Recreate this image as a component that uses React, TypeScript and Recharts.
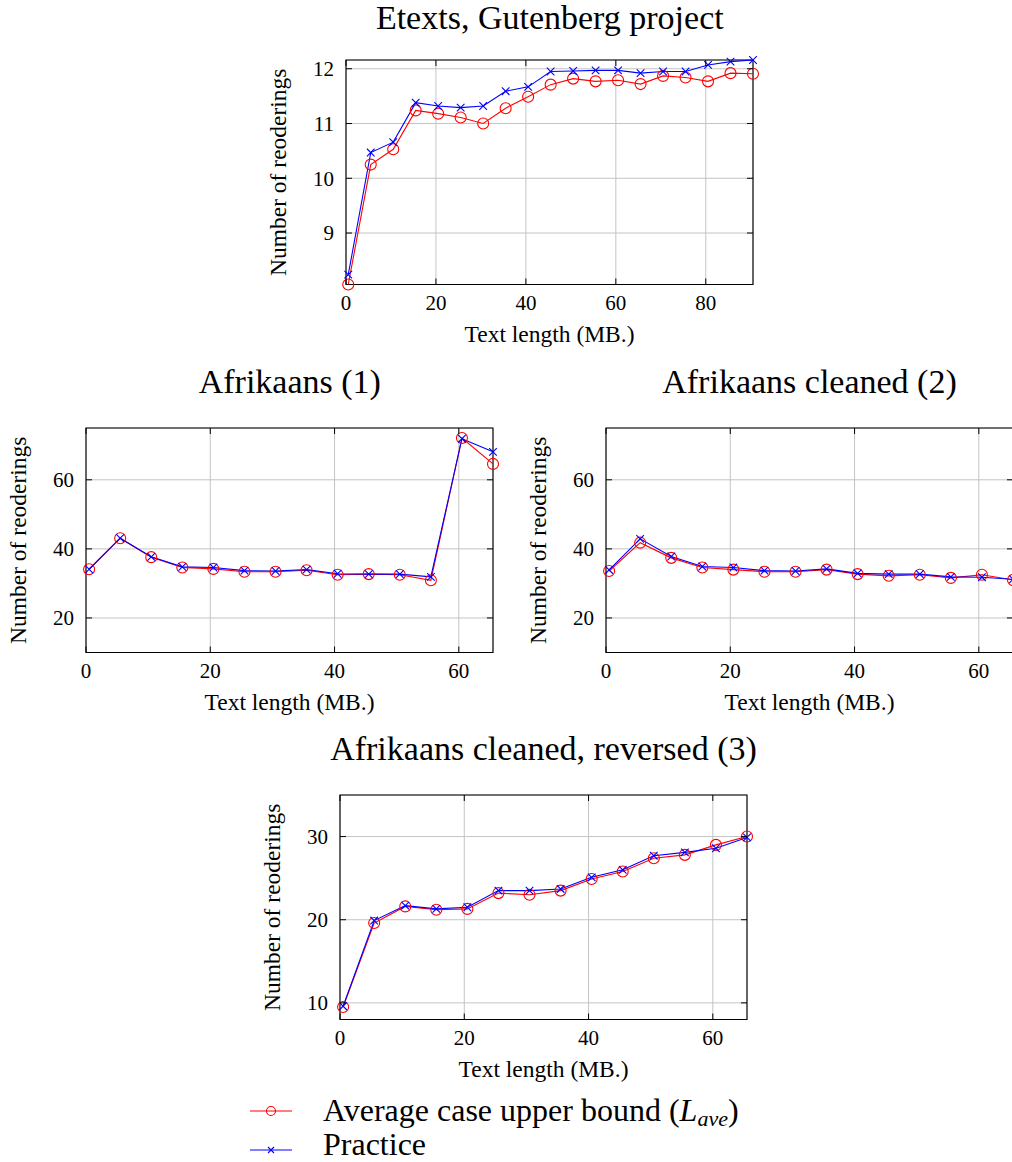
import React from "react"
import { LineChart, Line, XAxis, YAxis, CartesianGrid, ReferenceArea, Label } from "recharts"

const FONT = '"Liberation Serif", "Times New Roman", serif'

// Etexts, Gutenberg project
const gutenbergX = [0.5, 5.5, 10.5, 15.5, 20.5, 25.5, 30.5, 35.5, 40.5, 45.5, 50.5, 55.5, 60.5, 65.5, 70.5, 75.5, 80.5, 85.5, 90.5]
const gutenbergAvg = [8.06, 10.25, 10.53, 11.24, 11.18, 11.11, 11.0, 11.28, 11.49, 11.71, 11.82, 11.77, 11.79, 11.72, 11.87, 11.84, 11.77, 11.92, 11.91]
const gutenbergPractice = [8.24, 10.47, 10.66, 11.38, 11.32, 11.29, 11.32, 11.59, 11.67, 11.95, 11.96, 11.97, 11.97, 11.92, 11.95, 11.95, 12.07, 12.13, 12.16]
const gutenbergXTicks = [0, 20, 40, 60, 80]
const gutenbergYTicks = [9, 10, 11, 12]

// Afrikaans corpora
const afrikaansX = [0.5, 5.5, 10.5, 15.5, 20.5, 25.5, 30.5, 35.5, 40.5, 45.5, 50.5, 55.5, 60.5, 65.5]
const afr1Avg = [34.1, 43.1, 37.6, 34.6, 34.2, 33.4, 33.4, 33.8, 32.5, 32.7, 32.5, 30.9, 72.1, 64.6]
const afr1Practice = [34.1, 43.1, 37.7, 34.8, 34.6, 33.7, 33.6, 34.0, 32.8, 32.7, 32.7, 31.9, 71.9, 68.1]
const afr2Avg = [33.6, 41.8, 37.4, 34.6, 34.0, 33.4, 33.4, 34.0, 32.7, 32.2, 32.5, 31.6, 32.5, 31.0]
const afr2Practice = [33.9, 42.9, 37.8, 34.9, 34.6, 33.7, 33.6, 34.2, 32.9, 32.7, 32.7, 31.9, 31.8, 31.2]
const afr3Avg = [9.5, 19.6, 21.6, 21.2, 21.3, 23.2, 23.0, 23.5, 24.9, 25.8, 27.4, 27.8, 29.0, 30.0]
const afr3Practice = [9.6, 19.9, 21.7, 21.3, 21.5, 23.5, 23.5, 23.7, 25.1, 26.0, 27.7, 28.1, 28.6, 29.9]
const afrikaansXTicks = [0, 20, 40, 60]
const afrikaansYTicks = [20, 40, 60]
const reversedYTicks = [10, 20, 30]

const PW = 407
const PH = 224.5
const ML = 92
const MT = 12
const MR = 12
const MB = 72

type PanelProps = {
  left: number
  top: number
  xs: number[]
  avg: number[]
  practice: number[]
  xTicks: number[]
  yTicks: number[]
  yDomain: [number | string, number | string]
}

function Panel({ left, top, xs, avg, practice, xTicks, yTicks, yDomain }: PanelProps) {
  const rows = xs.map((x, i) => ({ x, avg: avg[i], practice: practice[i] }))
  const bottom = MT + PH
  const right = ML + PW

  const xTick = ({ x, payload }: any) => (
    <g>
      <line x1={x} x2={x} y1={bottom} y2={bottom - 6} stroke="#000" strokeWidth={1} />
      <line x1={x} x2={x} y1={MT} y2={MT + 6} stroke="#000" strokeWidth={1} />
      <text x={x} y={bottom + 25.5} textAnchor="middle" fontSize={21} fill="#000" fontFamily={FONT}>
        {payload.value}
      </text>
    </g>
  )
  const yTick = ({ y, payload }: any) => (
    <g>
      <line x1={ML} x2={ML + 6} y1={y} y2={y} stroke="#000" strokeWidth={1} />
      <line x1={right - 6} x2={right} y1={y} y2={y} stroke="#000" strokeWidth={1} />
      <text x={ML - 12} y={y} dy="0.35em" textAnchor="end" fontSize={21} fill="#000" fontFamily={FONT}>
        {payload.value}
      </text>
    </g>
  )

  const circle = (p: any) => (
    <circle key={`c${p.index}`} cx={p.cx} cy={p.cy} r={5.5} stroke="#ff0000" strokeWidth={1.1} fill="none" />
  )
  const cross = (p: any) => (
    <path
      key={`x${p.index}`}
      d={`M${p.cx - 3.8},${p.cy - 3.8}L${p.cx + 3.8},${p.cy + 3.8}M${p.cx - 3.8},${p.cy + 3.8}L${p.cx + 3.8},${p.cy - 3.8}`}
      stroke="#0000ff"
      strokeWidth={1.1}
      fill="none"
    />
  )

  return (
    <div style={{ position: "absolute", left: left - ML, top: top - MT }}>
      <LineChart width={ML + PW + MR} height={MT + PH + MB} data={rows} margin={{ top: MT, right: MR, bottom: 0, left: 0 }}>
        <CartesianGrid stroke="#c4c4c4" strokeWidth={1} />
        <XAxis
          type="number"
          dataKey="x"
          domain={[0, "dataMax"]}
          ticks={xTicks}
          interval={0}
          height={MB}
          axisLine={false}
          tickLine={false}
          tick={xTick}
        >
          <Label
            content={() => (
              <text x={ML + PW / 2} y={bottom + 57.5} textAnchor="middle" fontSize={23.5} fill="#000" fontFamily={FONT}>
                Text length (MB.)
              </text>
            )}
          />
        </XAxis>
        <YAxis
          type="number"
          domain={yDomain}
          ticks={yTicks}
          interval={0}
          width={ML}
          axisLine={false}
          tickLine={false}
          tick={yTick}
        >
          <Label
            content={() => (
              <text
                x={ML - 68}
                y={MT + PH / 2}
                transform={`rotate(-90 ${ML - 68} ${MT + PH / 2})`}
                textAnchor="middle"
                dy="0.35em"
                fontSize={23.5}
                fill="#000"
                fontFamily={FONT}
              >
                Number of reoderings
              </text>
            )}
          />
        </YAxis>
        <ReferenceArea x1={0} x2={xs[xs.length - 1]} fill="none" stroke="#000" strokeWidth={1.1} />
        <Line dataKey="avg" stroke="#ff0000" strokeWidth={1.1} dot={circle} isAnimationActive={false} />
        <Line dataKey="practice" stroke="#0000ff" strokeWidth={1.1} dot={cross} isAnimationActive={false} />
      </LineChart>
    </div>
  )
}

const titleStyle = { fontSize: 34, fill: "#000", fontFamily: FONT }

export default function App() {
  return (
    <div style={{ position: "absolute", left: 0, top: 0, width: 1012, height: 1162, overflow: "hidden", background: "#fff" }}>
      <Panel left={346.3} top={60.3} xs={gutenbergX} avg={gutenbergAvg} practice={gutenbergPractice}
        xTicks={gutenbergXTicks} yTicks={gutenbergYTicks} yDomain={["dataMin", "dataMax"]} />
      <Panel left={86.3} top={427.7} xs={afrikaansX} avg={afr1Avg} practice={afr1Practice}
        xTicks={afrikaansXTicks} yTicks={afrikaansYTicks} yDomain={[10, 75]} />
      <Panel left={606} top={427.7} xs={afrikaansX} avg={afr2Avg} practice={afr2Practice}
        xTicks={afrikaansXTicks} yTicks={afrikaansYTicks} yDomain={[10, 75]} />
      <Panel left={340} top={795.3} xs={afrikaansX} avg={afr3Avg} practice={afr3Practice}
        xTicks={afrikaansXTicks} yTicks={reversedYTicks} yDomain={[8, 35]} />
      <svg width={1012} height={1162} style={{ position: "absolute", left: 0, top: 0, pointerEvents: "none" }}>
        <text x={549.8} y={28.5} textAnchor="middle" {...titleStyle}>Etexts, Gutenberg project</text>
        <text x={289.8} y={393.3} textAnchor="middle" {...titleStyle}>Afrikaans (1)</text>
        <text x={809.5} y={393.3} textAnchor="middle" {...titleStyle}>Afrikaans cleaned (2)</text>
        <text x={543.5} y={760} textAnchor="middle" {...titleStyle}>Afrikaans cleaned, reversed (3)</text>

        <line x1={250} x2={292} y1={1111} y2={1111} stroke="#ff0000" strokeWidth={1.1} />
        <circle cx={271} cy={1111} r={4.5} stroke="#ff0000" strokeWidth={1.1} fill="none" />
        <text x={323} y={1120.5} fontSize={32} fontFamily={FONT} fill="#000">
          Average case upper bound (<tspan fontStyle="italic">L</tspan>
          <tspan fontStyle="italic" fontSize={22} dy={5}>ave</tspan>
          <tspan dy={-5}>)</tspan>
        </text>
        <line x1={250} x2={292} y1={1150} y2={1150} stroke="#0000ff" strokeWidth={1.1} />
        <path d="M268,1147L274,1153M268,1153L274,1147" stroke="#0000ff" strokeWidth={1.1} fill="none" />
        <text x={323} y={1155} fontSize={32} fontFamily={FONT} fill="#000">Practice</text>
      </svg>
    </div>
  )
}
